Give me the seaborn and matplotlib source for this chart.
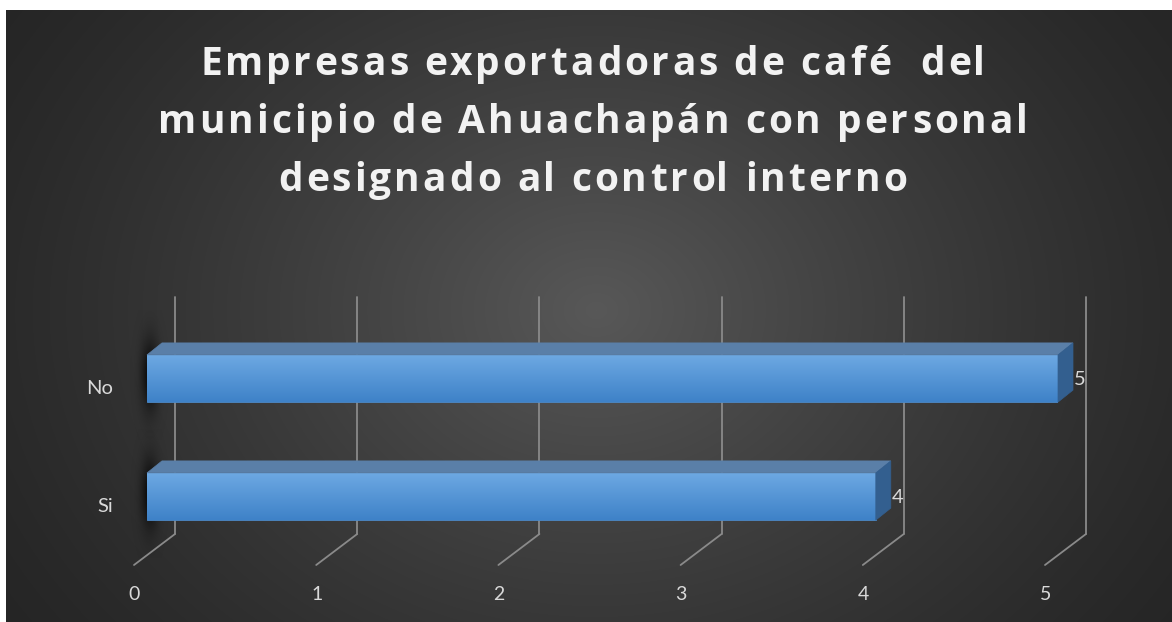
import numpy as np
import matplotlib
matplotlib.use("Agg")
import matplotlib.pyplot as plt
import seaborn as sns
from matplotlib.patches import Polygon
from matplotlib.lines import Line2D
from matplotlib.transforms import IdentityTransform
from matplotlib.font_manager import FontProperties

# ---------------- data ----------------
categories = ["No", "Si"]
values = [5, 4]
x_ticks = [0, 1, 2, 3, 4, 5]
title_lines = ["Empresas exportadoras de café  del",
               "municipio de Ahuachapán con personal",
               "designado al control interno"]

W, H, DPI = 1172, 622, 100
sns.set_theme(style="white")
plt.rcParams['font.family'] = ['Lato', 'DejaVu Sans']

fig = plt.figure(figsize=(W / DPI, H / DPI), dpi=DPI)
fig.patch.set_facecolor('white')

# ---------------- background (radial gradient) ----------------
bx0, by0 = 6, 10
bg = fig.add_axes([bx0 / W, 0, (W - bx0) / W, (H - by0) / H], zorder=0)
yy, xx = np.mgrid[0:H - by0, 0:W - bx0]
d = np.sqrt((xx - 590) ** 2 + ((yy - 300) * 1.25) ** 2)
v = np.clip(1 - d / 720, 0, 1)
g = (0x25 + (0x58 - 0x25) * v ** 1.3) / 255
bg.imshow(np.dstack([g, g, g]), aspect='auto', interpolation='bilinear')
bg.set_axis_off()

# ---------------- main axes (front face of bars) ----------------
x_left, x_right = 147, 1058          # pixel positions for 0 and 5
y_top, y_bot = 319.5, 555.5          # pixel positions for -0.5 and 1.5
ax = fig.add_axes([x_left / W, (H - y_bot) / H, (x_right - x_left) / W, (y_bot - y_top) / H],
                  zorder=2)
ax.patch.set_alpha(0)

sns.barplot(x=values, y=categories, orient='h', width=0.4, color='#5b9bd5',
            ax=ax, saturation=1, zorder=3)
ax.set_xlim(0, 5)
ax.set_ylim(1.5, -0.5)
ax.set_axis_off()

ident = IdentityTransform()

# gridlines (back wall + floor diagonals), drawn behind the bars
for t in x_ticks:
    px = ax.transData.transform((t, 0))[0]
    bxp = px + 28
    ax.add_line(Line2D([bxp, bxp], [H - 297, H - 534], color='#8a8a8a', lw=1.3,
                       transform=ident, zorder=1, clip_on=False))
    ax.add_line(Line2D([bxp, px - 13], [H - 534, H - 565], color='#8a8a8a', lw=1.3,
                       transform=ident, zorder=1, clip_on=False))
    fig.text((px - 12.5) / W, (H - 594) / H, str(t), ha='center', va='center',
             fontsize=14, color='#d9d9d9', zorder=5)

# bars: gradient front, top and side faces, shadows, labels
dx, dy = 15, 12
for patch, cat, val in zip(ax.patches, categories, values):
    (x0, y0), (x1, y1) = ax.transData.transform(
        [(patch.get_x(), patch.get_y()),
         (patch.get_x() + patch.get_width(), patch.get_y() + patch.get_height())])
    yb, yt = min(y0, y1), max(y0, y1)   # display coords (bottom, top)
    cy = (yb + yt) / 2

    # soft shadow left of the bar
    sh_h, sh_w = 130, 50
    sy, sx = np.mgrid[0:sh_h, 0:sh_w]
    a = np.exp(-((sx - sh_w * 0.5) ** 2) / (2 * 6.0 ** 2) - ((sy - sh_h / 2) ** 2) / (2 * 24.0 ** 2))
    shadow = np.zeros((sh_h, sh_w, 4))
    shadow[..., 3] = 0.8 * a
    sh_ax = fig.add_axes([(x0 - sh_w * 0.5 + 2) / W, (cy - sh_h / 2 + 3) / H, sh_w / W, sh_h / H],
                         zorder=1)
    sh_ax.imshow(shadow, aspect='auto', interpolation='bilinear')
    sh_ax.set_axis_off()

    # gradient on front face
    grad = np.linspace(0, 1, 64)[:, None]
    top_c = np.array([0x6e, 0xa9, 0xe3]) / 255
    bot_c = np.array([0x3e, 0x82, 0xc8]) / 255
    img = top_c[None, None, :] * (1 - grad[..., None]) + bot_c[None, None, :] * grad[..., None]
    img = np.repeat(img, 4, axis=1)
    im = ax.imshow(img, extent=(patch.get_x(), patch.get_x() + patch.get_width(),
                                patch.get_y() + patch.get_height(), patch.get_y()),
                   aspect='auto', zorder=4, interpolation='bilinear')
    im.set_clip_path(patch)
    patch.set_edgecolor('#4a86c4')
    patch.set_linewidth(0.6)

    top = Polygon([(x0, yt), (x1, yt), (x1 + dx, yt + dy), (x0 + dx, yt + dy)],
                  closed=True, facecolor='#5a7fa8', edgecolor='#5a7fa8', lw=0.5,
                  transform=ident, zorder=4, clip_on=False)
    side = Polygon([(x1, yt), (x1 + dx, yt + dy), (x1 + dx, yb + dy), (x1, yb)],
                   closed=True, facecolor='#335f8f', edgecolor='#335f8f', lw=0.5,
                   transform=ident, zorder=4, clip_on=False)
    ax.add_patch(top)
    ax.add_patch(side)

    # value label
    fig.text((x1 + 16) / W, (cy - 1) / H, f"{val}", ha='left', va='center',
             fontsize=14.5, color='#d9d9d9', zorder=6)
    # category label
    fig.text((x0 - 34) / W, (cy - 10.5) / H, cat, ha='right', va='center',
             fontsize=14.5, color='#d9d9d9', zorder=6)

ax.set_xlim(0, 5)
ax.set_ylim(1.5, -0.5)

# ---------------- title with letter spacing ----------------
fp = FontProperties(family='Open Sans', weight='bold', size=28)
renderer = fig.canvas.get_renderer()

def width(s):
    w, h, d = renderer.get_text_width_height_descent(s, fp, ismath=False)
    return w

ref_w = width("x")

def prefix_w(s):
    return width(s + "x") - ref_w

target_w = 870
ref_line = title_lines[1]
spacing = (target_w - width(ref_line)) / (len(ref_line) - 1)
baselines = [75, 133, 191]
cx = 593
for line, base in zip(title_lines, baselines):
    total = width(line) + spacing * (len(line) - 1)
    xs = cx - total / 2
    for i, c in enumerate(line):
        if c == ' ':
            continue
        x = xs + prefix_w(line[:i]) + spacing * i
        fig.text(x / W, (H - base) / H, c, fontproperties=fp, color='#f2f2f2',
                 ha='left', va='baseline', zorder=5)

fig.savefig("out.png", dpi=DPI, facecolor=fig.get_facecolor())
